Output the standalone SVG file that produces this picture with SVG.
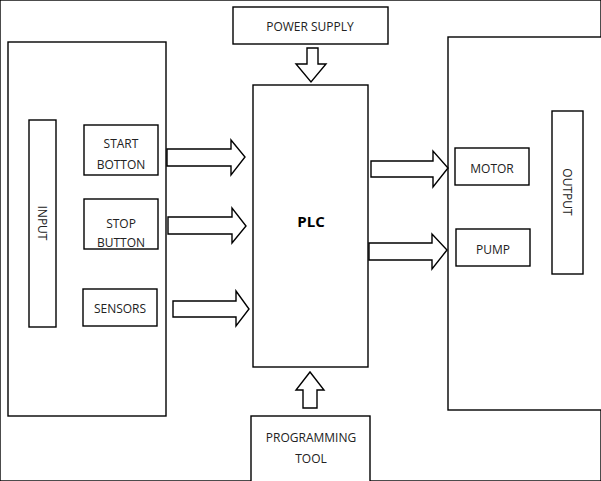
<svg xmlns="http://www.w3.org/2000/svg" width="601" height="481" viewBox="0 0 601 481">
<style>
rect, polygon { fill: #fff; stroke: #000; stroke-width: 1.4; }
text { font-family: "Open Sans", "Liberation Sans", sans-serif; font-size: 12px; fill: #222; text-anchor: middle; }
.b { font-weight: bold; font-size: 15px; fill: #000; }
</style>
<rect width="601" height="481" fill="#fff" stroke="none"/>
<g id="input">
  <rect x="8" y="42" width="158" height="374"/>
  <rect x="29" y="120" width="27" height="207"/>
  <text transform="translate(38,223) rotate(90)">INPUT</text>
</g>
<g id="start"><rect x="84" y="125" width="74" height="50"/><text x="121" y="148">START</text><text x="121" y="169">BOTTON</text></g>
<g id="stop"><rect x="84" y="199" width="74" height="50"/><text x="121" y="228">STOP</text><text x="121" y="247">BUTTON</text></g>
<g id="sensors"><rect x="83" y="289" width="74" height="37"/><text x="120" y="313">SENSORS</text></g>
<g id="power"><rect x="233" y="7" width="155" height="37"/><text x="310" y="31">POWER SUPPLY</text></g>
<g id="plc"><rect x="253" y="85" width="115" height="282"/><text class="b" x="311" y="227">PLC</text></g>
<g id="prog"><rect x="251" y="416" width="119" height="70"/><text x="311" y="442">PROGRAMMING</text><text x="311" y="463">TOOL</text></g>
<g id="output">
  <rect x="448" y="37" width="160" height="373"/>
  <rect x="552" y="111" width="31" height="163"/>
  <text transform="translate(563,192) rotate(90)">OUTPUT</text>
</g>
<g id="motor"><rect x="455" y="148" width="74" height="37"/><text x="492" y="173">MOTOR</text></g>
<g id="pump"><rect x="456" y="229" width="74" height="37"/><text x="493" y="254">PUMP</text></g>
<g id="connectors">
  <polygon points="167,149 231,149 231,140 245,157 231,175 231,166 167,166"/>
  <polygon points="168,217 232,217 232,208 246,226 232,243 232,234 168,234"/>
  <polygon points="173,301 236,301 236,291 249,309 236,326 236,317 173,317"/>
  <polygon points="371,161 433,161 433,151 448,168 433,187 433,177 371,177"/>
  <polygon points="369,243 432,243 432,234 447,250 432,269 432,260 369,260"/>
  <polygon points="307,48 318,48 318,64 326,64 311,82 296,64 307,64"/>
  <polygon points="303,408 317,408 317,390 324,390 310,372 296,390 303,390"/>
</g>
</svg>
